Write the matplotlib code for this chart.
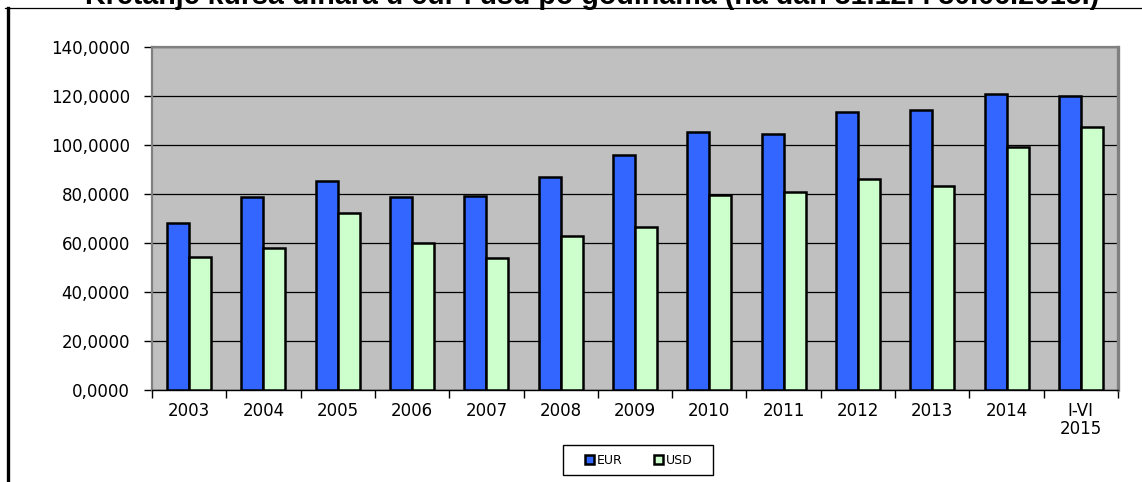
import numpy as np
import matplotlib
matplotlib.use("Agg")
import matplotlib.pyplot as plt
from matplotlib.lines import Line2D
from matplotlib.patches import Rectangle

years = ["2003", "2004", "2005", "2006", "2007", "2008", "2009",
         "2010", "2011", "2012", "2013", "2014", "I-VI\n2015"]
eur = [68.3, 78.9, 85.2, 78.9, 79.0, 86.9, 95.8,
       105.4, 104.6, 113.4, 114.4, 120.7, 120.1]
usd = [54.4, 58.0, 72.1, 60.1, 53.7, 63.0, 66.7,
       79.5, 80.8, 86.1, 83.1, 99.3, 107.5]
y_ticks = [0, 20, 40, 60, 80, 100, 120, 140]
title = "Kretanje kursa dinara u eur i usd po godinama (na dan 31.12. i 30.06.2015.)"

W, H = 1142, 482
fig = plt.figure(figsize=(W / 100, H / 100), dpi=100)
fig.patch.set_facecolor("white")

# outer frame (left thick, top thin)
fig.add_artist(Line2D([8 / W, 8 / W], [0, 1 - 8 / H], color="black", lw=2.4))
fig.add_artist(Line2D([5 / W, 1], [1 - 8 / H, 1 - 8 / H], color="black", lw=0.9))

# title, cut at the top edge like the source
fig.text(592 / W, 1 - 4 / H, title, ha="center", va="baseline",
         fontsize=20.6, fontweight="bold", family="Liberation Sans")

ax = fig.add_axes([152 / W, 1 - 390 / H, (1118 - 152) / W, (390 - 47) / H])
ax.set_facecolor("#C0C0C0")

x = np.arange(len(years))
bw = 0.296
ax.bar(x - bw / 2, eur, bw, color="#3366FF", edgecolor="black", linewidth=1.8,
       label="EUR", zorder=3)
ax.bar(x + bw / 2, usd, bw, color="#CCFFCC", edgecolor="black", linewidth=1.8,
       label="USD", zorder=3)

ax.set_xlim(-0.5, len(years) - 0.5)
ax.set_ylim(0, 140)
ax.set_yticks(y_ticks)
ax.set_yticklabels([f"{v:.4f}".replace(".", ",") for v in y_ticks],
                   fontsize=12, family="DejaVu Sans")
ax.yaxis.grid(True, color="black", linewidth=0.9, zorder=1)
ax.set_axisbelow(True)

ax.set_xticks(x)
ax.set_xticklabels(years, fontsize=12, family="DejaVu Sans", linespacing=0.95)
ax.set_xticks(np.arange(-0.5, len(years)), minor=True)
ax.tick_params(axis="x", which="major", length=0, pad=9)
ax.tick_params(axis="x", which="minor", length=6, width=1, color="black", direction="out")
ax.tick_params(axis="y", length=6, width=1, color="black", direction="out", pad=10)

for side in ["top", "right", "left"]:
    ax.spines[side].set_color("#808080")
    ax.spines[side].set_linewidth(1.6)
ax.spines["right"].set_linewidth(2.4)
ax.spines["bottom"].set_color("black")
ax.spines["bottom"].set_linewidth(1.0)

# legend: entries without frame, box drawn separately
fig.add_artist(Rectangle((563 / W, 1 - 475 / H), 150 / W, 30 / H,
                         transform=fig.transFigure, facecolor="white",
                         edgecolor="black", linewidth=1.0))
fig.legend(loc="center", bbox_to_anchor=(639 / W, 1 - 460 / H), ncol=2,
           fontsize=9, frameon=False,
           handlelength=0.7, handleheight=0.7, handletextpad=0.25,
           columnspacing=2.5, borderpad=0.3)

fig.savefig("out.png", dpi=100)
